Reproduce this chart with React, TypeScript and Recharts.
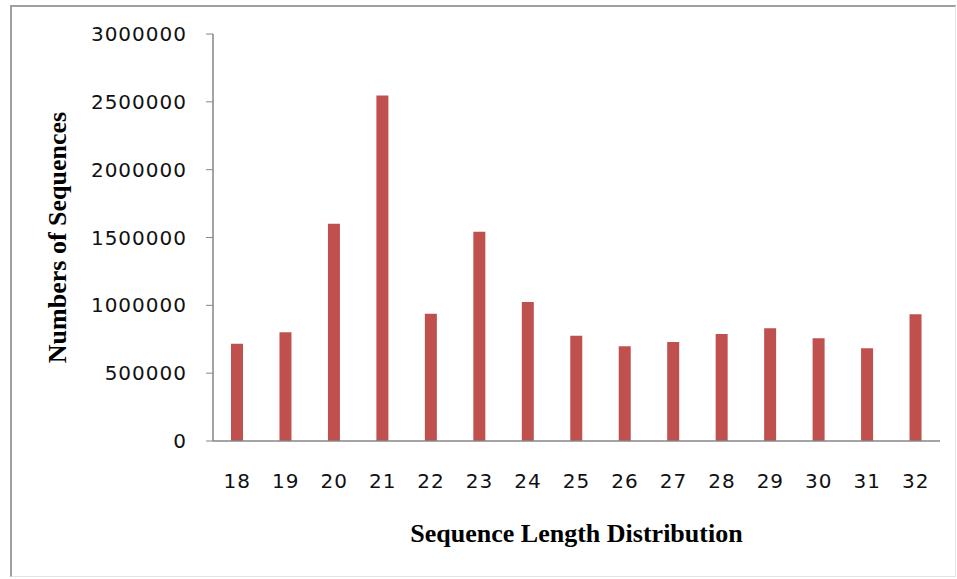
import { BarChart, Bar, XAxis, YAxis } from "recharts";

const lengths = ["18", "19", "20", "21", "22", "23", "24", "25", "26", "27", "28", "29", "30", "31", "32"];
const counts = [717000, 802000, 1602000, 2546000, 938000, 1543000, 1024000, 775000, 699000, 729000, 788000, 832000, 758000, 684000, 935000];
const yTicks = [0, 500000, 1000000, 1500000, 2000000, 2500000, 3000000];

const data = lengths.map((len, i) => ({ len, count: counts[i] }));

const titleFont = "'Liberation Serif', 'Times New Roman', serif";
const tickFont = "'DejaVu Sans', Verdana, sans-serif";
const axisGray = "#868686";

const YTitle = ({ viewBox }: any) => {
    const cx = viewBox.x + 66;
    const cy = viewBox.y + viewBox.height / 2;
    return (
        <text x={cx} y={cy} transform={`rotate(-90, ${cx}, ${cy})`} textAnchor="middle"
            fontFamily={titleFont} fontWeight="bold" fontSize={26} fill="#000">
            Numbers of Sequences
        </text>
    );
};

const XTitle = ({ viewBox }: any) => {
    const cx = viewBox.x + viewBox.width / 2;
    const cy = viewBox.y + 101;
    return (
        <text x={cx} y={cy} textAnchor="middle" fontFamily={titleFont} fontWeight="bold" fontSize={26} fill="#000">
            Sequence Length Distribution
        </text>
    );
};

export default function App() {
    return (
        <div style={{ position: "absolute", left: 0, top: 0, width: 957, height: 579, background: "#fff" }}>
            <div style={{
                position: "absolute", left: 10, top: 5, width: 946, height: 572, boxSizing: "border-box",
                borderTop: "2px solid #a0a0a0", borderLeft: "2px solid #a0a0a0",
                borderRight: "1px solid #e4e4e4", borderBottom: "1px solid #e4e4e4",
            }} />
            <BarChart
                width={957}
                height={579}
                data={data}
                margin={{ top: 34, right: 17, bottom: 38, left: 0 }}
                style={{ position: "absolute", left: 0, top: 0 }}
            >
                <XAxis
                    dataKey="len"
                    height={100}
                    axisLine={{ stroke: axisGray, strokeWidth: 1.5 }}
                    tickLine={false}
                    tickSize={6}
                    tickMargin={27}
                    tick={{ fontFamily: tickFont, fontSize: 20, fill: "#111", letterSpacing: 1 }}
                    label={<XTitle />}
                />
                <YAxis
                    width={213}
                    domain={[0, 3000000]}
                    ticks={yTicks}
                    interval={0}
                    axisLine={{ stroke: axisGray, strokeWidth: 1.5 }}
                    tickLine={{ stroke: axisGray }}
                    tickSize={7}
                    tickMargin={19}
                    tick={{ fontFamily: tickFont, fontSize: 20, fill: "#111", letterSpacing: 1 }}
                    label={<YTitle />}
                />
                <Bar dataKey="count" fill="#C0504D" barSize={12} isAnimationActive={false} />
            </BarChart>
        </div>
    );
}
